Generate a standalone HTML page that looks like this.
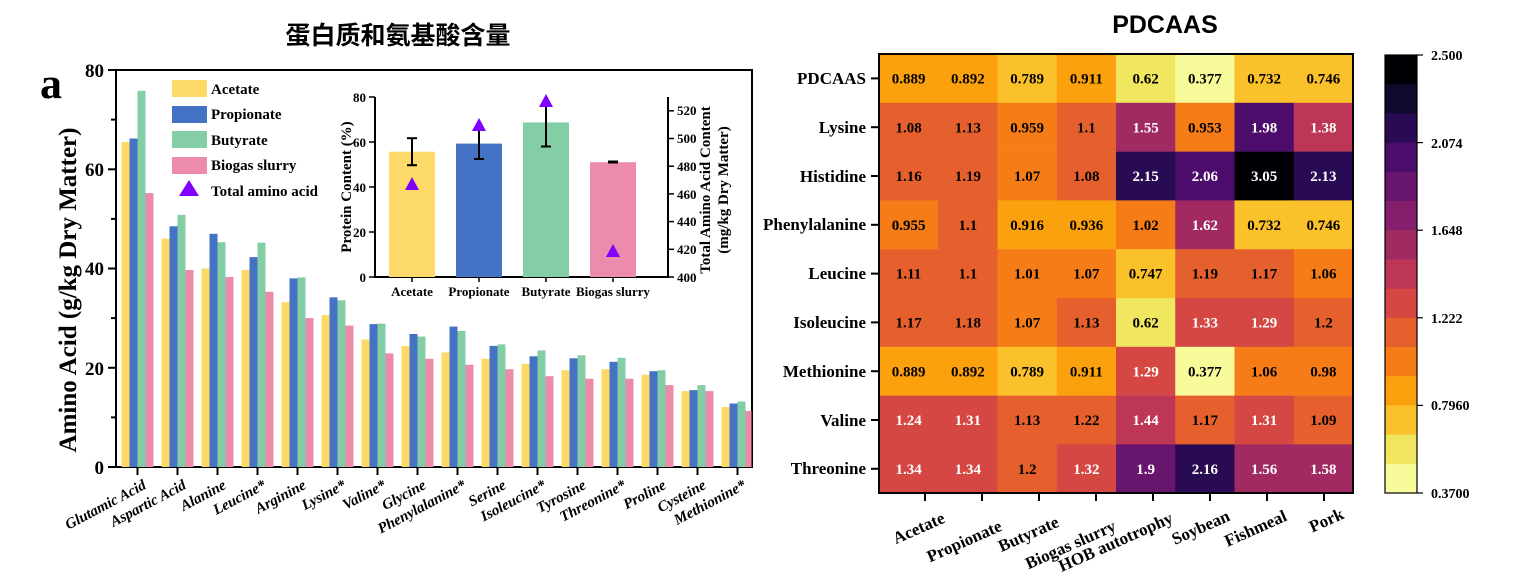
<!DOCTYPE html>
<html><head><meta charset="utf-8">
<style>
html,body{margin:0;padding:0;background:#fff;}
svg{display:block;}
text{font-family:"Liberation Serif","Noto Serif CJK SC",serif;font-weight:bold;fill:#000;}
.cn{font-family:"Liberation Sans","Noto Sans CJK SC",sans-serif;font-weight:bold;}
.v{font-size:15px;text-anchor:middle;}
.w{fill:#fff;}
.rl{font-size:17px;text-anchor:end;}
.tk{font-size:19px;text-anchor:end;}
.it{font-size:15px;font-style:italic;text-anchor:end;}
</style></head>
<body>
<svg width="1537" height="587" viewBox="0 0 1537 587" xmlns="http://www.w3.org/2000/svg">
<text class="cn" x="398" y="44" font-size="25" text-anchor="middle">蛋白质和氨基酸含量</text>
<text x="1165" y="33" font-size="25" text-anchor="middle" style="font-family:'Liberation Sans',sans-serif">PDCAAS</text>
<text x="40" y="98" font-size="44">a</text>

<rect x="116" y="70" width="636" height="397" fill="none" stroke="#000" stroke-width="2"/>
<g stroke="#000" stroke-width="2">
<line x1="108" y1="70" x2="116" y2="70"/><line x1="108" y1="169.3" x2="116" y2="169.3"/><line x1="108" y1="268.5" x2="116" y2="268.5"/><line x1="108" y1="367.8" x2="116" y2="367.8"/><line x1="108" y1="467" x2="116" y2="467"/>
<line x1="111" y1="119.6" x2="116" y2="119.6"/><line x1="111" y1="218.9" x2="116" y2="218.9"/><line x1="111" y1="318.1" x2="116" y2="318.1"/><line x1="111" y1="417.4" x2="116" y2="417.4"/>
</g>
<text class="tk" x="104" y="77">80</text><text class="tk" x="104" y="176">60</text><text class="tk" x="104" y="275">40</text><text class="tk" x="104" y="375">20</text><text class="tk" x="104" y="474">0</text>
<text x="76" y="290" font-size="25" text-anchor="middle" transform="rotate(-90 76 290)">Amino Acid (g/kg Dry Matter)</text>

<g transform="translate(0,467) scale(1,-1)">
<g fill="#fdd96a">
<rect x="121.5" width="8" height="325"/><rect x="161.5" width="8" height="228.3"/><rect x="201.5" width="8" height="198.5"/><rect x="241.5" width="8" height="197"/><rect x="281.5" width="8" height="164.8"/><rect x="321.5" width="8" height="151.9"/><rect x="361.5" width="8" height="127.5"/><rect x="401.5" width="8" height="121.1"/><rect x="441.5" width="8" height="114.6"/><rect x="481.5" width="8" height="108.2"/><rect x="521.5" width="8" height="103.2"/><rect x="561.5" width="8" height="96.8"/><rect x="601.5" width="8" height="97.8"/><rect x="641.5" width="8" height="92.3"/><rect x="681.5" width="8" height="75.9"/><rect x="721.5" width="8" height="60"/>
</g>
<g fill="#4472c4">
<rect x="129.5" width="8" height="328.5"/><rect x="169.5" width="8" height="240.7"/><rect x="209.5" width="8" height="233.2"/><rect x="249.5" width="8" height="209.9"/><rect x="289.5" width="8" height="188.6"/><rect x="329.5" width="8" height="169.7"/><rect x="369.5" width="8" height="142.9"/><rect x="409.5" width="8" height="133"/><rect x="449.5" width="8" height="140.4"/><rect x="489.5" width="8" height="121.1"/><rect x="529.5" width="8" height="110.7"/><rect x="569.5" width="8" height="108.7"/><rect x="609.5" width="8" height="105.2"/><rect x="649.5" width="8" height="95.8"/><rect x="689.5" width="8" height="76.9"/><rect x="729.5" width="8" height="63.5"/>
</g>
<g fill="#83cea4">
<rect x="137.5" width="8" height="376.2"/><rect x="177.5" width="8" height="252.1"/><rect x="217.5" width="8" height="224.8"/><rect x="257.5" width="8" height="224.3"/><rect x="297.5" width="8" height="189.6"/><rect x="337.5" width="8" height="166.7"/><rect x="377.5" width="8" height="143.4"/><rect x="417.5" width="8" height="130.5"/><rect x="457.5" width="8" height="136"/><rect x="497.5" width="8" height="122.6"/><rect x="537.5" width="8" height="116.6"/><rect x="577.5" width="8" height="111.7"/><rect x="617.5" width="8" height="109.2"/><rect x="657.5" width="8" height="96.8"/><rect x="697.5" width="8" height="81.9"/><rect x="737.5" width="8" height="65.5"/>
</g>
<g fill="#ec8bab">
<rect x="145.5" width="8" height="273.9"/><rect x="185.5" width="8" height="197"/><rect x="225.5" width="8" height="190.1"/><rect x="265.5" width="8" height="175.2"/><rect x="305.5" width="8" height="148.9"/><rect x="345.5" width="8" height="141.4"/><rect x="385.5" width="8" height="113.6"/><rect x="425.5" width="8" height="108.2"/><rect x="465.5" width="8" height="102.2"/><rect x="505.5" width="8" height="97.8"/><rect x="545.5" width="8" height="90.8"/><rect x="585.5" width="8" height="88.3"/><rect x="625.5" width="8" height="88.3"/><rect x="665.5" width="8" height="81.9"/><rect x="705.5" width="8" height="75.9"/><rect x="745.5" width="6" height="56.1"/>
</g>
</g>
<g stroke="#000" stroke-width="2">
<line x1="137.5" y1="467" x2="137.5" y2="475"/><line x1="177.5" y1="467" x2="177.5" y2="475"/><line x1="217.5" y1="467" x2="217.5" y2="475"/><line x1="257.5" y1="467" x2="257.5" y2="475"/><line x1="297.5" y1="467" x2="297.5" y2="475"/><line x1="337.5" y1="467" x2="337.5" y2="475"/><line x1="377.5" y1="467" x2="377.5" y2="475"/><line x1="417.5" y1="467" x2="417.5" y2="475"/><line x1="457.5" y1="467" x2="457.5" y2="475"/><line x1="497.5" y1="467" x2="497.5" y2="475"/><line x1="537.5" y1="467" x2="537.5" y2="475"/><line x1="577.5" y1="467" x2="577.5" y2="475"/><line x1="617.5" y1="467" x2="617.5" y2="475"/><line x1="657.5" y1="467" x2="657.5" y2="475"/><line x1="697.5" y1="467" x2="697.5" y2="475"/><line x1="737.5" y1="467" x2="737.5" y2="475"/>
</g>
<text class="it" transform="translate(147,488) rotate(-28)">Glutamic Acid</text>
<text class="it" transform="translate(187,488) rotate(-28)">Aspartic Acid</text>
<text class="it" transform="translate(227,488) rotate(-28)">Alanine</text>
<text class="it" transform="translate(267,488) rotate(-28)">Leucine*</text>
<text class="it" transform="translate(307,488) rotate(-28)">Arginine</text>
<text class="it" transform="translate(347,488) rotate(-28)">Lysine*</text>
<text class="it" transform="translate(387,488) rotate(-28)">Valine*</text>
<text class="it" transform="translate(427,488) rotate(-28)">Glycine</text>
<text class="it" transform="translate(467,488) rotate(-28)">Phenylalanine*</text>
<text class="it" transform="translate(507,488) rotate(-28)">Serine</text>
<text class="it" transform="translate(547,488) rotate(-28)">Isoleucine*</text>
<text class="it" transform="translate(587,488) rotate(-28)">Tyrosine</text>
<text class="it" transform="translate(627,488) rotate(-28)">Threonine*</text>
<text class="it" transform="translate(667,488) rotate(-28)">Proline</text>
<text class="it" transform="translate(707,488) rotate(-28)">Cysteine</text>
<text class="it" transform="translate(747,488) rotate(-28)">Methionine*</text>

<rect x="172" y="80" width="35" height="17" fill="#fdd96a"/><text x="211" y="94" font-size="15">Acetate</text>
<rect x="172" y="106" width="35" height="17" fill="#4472c4"/><text x="211" y="119" font-size="15">Propionate</text>
<rect x="172" y="131" width="35" height="17" fill="#83cea4"/><text x="211" y="145" font-size="15">Butyrate</text>
<rect x="172" y="157" width="35" height="17" fill="#ec8bab"/><text x="211" y="170" font-size="15">Biogas slurry</text>
<polygon points="189,180 199,196 179,196" fill="#8000ff"/><text x="211" y="196" font-size="15">Total amino acid</text>

<line x1="375" y1="97" x2="375" y2="277" stroke="#000" stroke-width="2"/>
<line x1="374" y1="277" x2="669" y2="277" stroke="#000" stroke-width="2"/>
<line x1="668" y1="97" x2="668" y2="277" stroke="#000" stroke-width="2"/>
<g stroke="#000" stroke-width="1.5">
<line x1="369" y1="97" x2="375" y2="97"/><line x1="369" y1="142" x2="375" y2="142"/><line x1="369" y1="187" x2="375" y2="187"/><line x1="369" y1="232" x2="375" y2="232"/><line x1="369" y1="277" x2="375" y2="277"/>
<line x1="668" y1="277" x2="674" y2="277"/><line x1="668" y1="249.3" x2="674" y2="249.3"/><line x1="668" y1="221.6" x2="674" y2="221.6"/><line x1="668" y1="193.9" x2="674" y2="193.9"/><line x1="668" y1="166.2" x2="674" y2="166.2"/><line x1="668" y1="138.5" x2="674" y2="138.5"/><line x1="668" y1="110.8" x2="674" y2="110.8"/>
<line x1="412" y1="277" x2="412" y2="282"/><line x1="479" y1="277" x2="479" y2="282"/><line x1="546" y1="277" x2="546" y2="282"/><line x1="613" y1="277" x2="613" y2="282"/>
</g>
<g font-size="13" text-anchor="end">
<text x="366" y="102">80</text><text x="366" y="147">60</text><text x="366" y="192">40</text><text x="366" y="237">20</text><text x="366" y="282">0</text>
</g>
<g font-size="13">
<text x="677" y="282">400</text><text x="677" y="254">420</text><text x="677" y="226">440</text><text x="677" y="199">460</text><text x="677" y="171">480</text><text x="677" y="143">500</text><text x="677" y="115">520</text>
</g>
<text x="351" y="187" font-size="15" text-anchor="middle" transform="rotate(-90 351 187)">Protein Content (%)</text>
<text x="710" y="190" font-size="15" text-anchor="middle" transform="rotate(-90 710 190)">Total Amino Acid Content</text>
<text x="728" y="190" font-size="15" text-anchor="middle" transform="rotate(-90 728 190)">(mg/kg Dry Matter)</text>
<rect x="389" y="151.7" width="46" height="125.3" fill="#fdd96a"/>
<rect x="456" y="143.6" width="46" height="133.4" fill="#4472c4"/>
<rect x="523" y="122.4" width="46" height="154.6" fill="#83cea4"/>
<rect x="590" y="162.2" width="46" height="114.8" fill="#ec8bab"/>
<g stroke="#000" stroke-width="2">
<line x1="412" y1="138.2" x2="412" y2="165.2"/><line x1="407" y1="138.2" x2="417" y2="138.2"/><line x1="407" y1="165.2" x2="417" y2="165.2"/>
<line x1="479" y1="128.5" x2="479" y2="159"/><line x1="474" y1="128.5" x2="484" y2="128.5"/><line x1="474" y1="159" x2="484" y2="159"/>
<line x1="546" y1="100" x2="546" y2="146.5"/><line x1="541" y1="146.5" x2="551" y2="146.5"/>
<line x1="608" y1="162" x2="618" y2="162" stroke-width="3"/>
</g>
<g fill="#8000ff">
<polygon points="412,177 419,190 405,190"/><polygon points="479,118 486,131 472,131"/><polygon points="546,94 553,107 539,107"/><polygon points="613,244 620,257 606,257"/>
</g>
<g font-size="13" text-anchor="middle">
<text x="412" y="296">Acetate</text><text x="479" y="296">Propionate</text><text x="546" y="296">Butyrate</text><text x="613" y="296">Biogas slurry</text>
</g>

<g>
<g transform="translate(0,54)">
<rect x="879" width="60" height="49" fill="#fba10d"/><rect x="938.25" width="60" height="49" fill="#fba10d"/><rect x="997.5" width="60" height="49" fill="#fbc12a"/><rect x="1056.75" width="60" height="49" fill="#fba10d"/><rect x="1116" width="60" height="49" fill="#f1e660"/><rect x="1175.25" width="60" height="49" fill="#f7fb99"/><rect x="1234.5" width="60" height="49" fill="#fbc12a"/><rect x="1293.75" width="59.25" height="49" fill="#fbc12a"/>
<text class="v" x="908.6" y="29.5">0.889</text><text class="v" x="967.9" y="29.5">0.892</text><text class="v" x="1027.1" y="29.5">0.789</text><text class="v" x="1086.4" y="29.5">0.911</text><text class="v" x="1145.6" y="29.5">0.62</text><text class="v" x="1204.9" y="29.5">0.377</text><text class="v" x="1264.1" y="29.5">0.732</text><text class="v" x="1323.4" y="29.5">0.746</text>
</g>
<g transform="translate(0,102.8)">
<rect x="879" width="60" height="49" fill="#e6602e"/><rect x="938.25" width="60" height="49" fill="#e6602e"/><rect x="997.5" width="60" height="49" fill="#f57c16"/><rect x="1056.75" width="60" height="49" fill="#e6602e"/><rect x="1116" width="60" height="49" fill="#a12a62"/><rect x="1175.25" width="60" height="49" fill="#f57c16"/><rect x="1234.5" width="60" height="49" fill="#4b0c6b"/><rect x="1293.75" width="59.25" height="49" fill="#bd3655"/>
<text class="v" x="908.6" y="29.5">1.08</text><text class="v" x="967.9" y="29.5">1.13</text><text class="v" x="1027.1" y="29.5">0.959</text><text class="v" x="1086.4" y="29.5">1.1</text><text class="v w" x="1145.6" y="29.5">1.55</text><text class="v" x="1204.9" y="29.5">0.953</text><text class="v w" x="1264.1" y="29.5">1.98</text><text class="v w" x="1323.4" y="29.5">1.38</text>
</g>
<g transform="translate(0,151.6)">
<rect x="879" width="60" height="49" fill="#e6602e"/><rect x="938.25" width="60" height="49" fill="#e6602e"/><rect x="997.5" width="60" height="49" fill="#f57c16"/><rect x="1056.75" width="60" height="49" fill="#e6602e"/><rect x="1116" width="60" height="49" fill="#280b53"/><rect x="1175.25" width="60" height="49" fill="#4b0c6b"/><rect x="1234.5" width="60" height="49" fill="#000004"/><rect x="1293.75" width="59.25" height="49" fill="#280b53"/>
<text class="v" x="908.6" y="29.5">1.16</text><text class="v" x="967.9" y="29.5">1.19</text><text class="v" x="1027.1" y="29.5">1.07</text><text class="v" x="1086.4" y="29.5">1.08</text><text class="v w" x="1145.6" y="29.5">2.15</text><text class="v w" x="1204.9" y="29.5">2.06</text><text class="v w" x="1264.1" y="29.5">3.05</text><text class="v w" x="1323.4" y="29.5">2.13</text>
</g>
<g transform="translate(0,200.4)">
<rect x="879" width="60" height="49" fill="#f57c16"/><rect x="938.25" width="60" height="49" fill="#e6602e"/><rect x="997.5" width="60" height="49" fill="#fba10d"/><rect x="1056.75" width="60" height="49" fill="#fba10d"/><rect x="1116" width="60" height="49" fill="#f57c16"/><rect x="1175.25" width="60" height="49" fill="#a12a62"/><rect x="1234.5" width="60" height="49" fill="#fbc12a"/><rect x="1293.75" width="59.25" height="49" fill="#fbc12a"/>
<text class="v" x="908.6" y="29.5">0.955</text><text class="v" x="967.9" y="29.5">1.1</text><text class="v" x="1027.1" y="29.5">0.916</text><text class="v" x="1086.4" y="29.5">0.936</text><text class="v" x="1145.6" y="29.5">1.02</text><text class="v w" x="1204.9" y="29.5">1.62</text><text class="v" x="1264.1" y="29.5">0.732</text><text class="v" x="1323.4" y="29.5">0.746</text>
</g>
<g transform="translate(0,249.2)">
<rect x="879" width="60" height="49" fill="#e6602e"/><rect x="938.25" width="60" height="49" fill="#e6602e"/><rect x="997.5" width="60" height="49" fill="#f57c16"/><rect x="1056.75" width="60" height="49" fill="#f57c16"/><rect x="1116" width="60" height="49" fill="#fbc12a"/><rect x="1175.25" width="60" height="49" fill="#e6602e"/><rect x="1234.5" width="60" height="49" fill="#e6602e"/><rect x="1293.75" width="59.25" height="49" fill="#f57c16"/>
<text class="v" x="908.6" y="29.5">1.11</text><text class="v" x="967.9" y="29.5">1.1</text><text class="v" x="1027.1" y="29.5">1.01</text><text class="v" x="1086.4" y="29.5">1.07</text><text class="v" x="1145.6" y="29.5">0.747</text><text class="v" x="1204.9" y="29.5">1.19</text><text class="v" x="1264.1" y="29.5">1.17</text><text class="v" x="1323.4" y="29.5">1.06</text>
</g>
<g transform="translate(0,298)">
<rect x="879" width="60" height="49" fill="#e6602e"/><rect x="938.25" width="60" height="49" fill="#e6602e"/><rect x="997.5" width="60" height="49" fill="#f57c16"/><rect x="1056.75" width="60" height="49" fill="#e6602e"/><rect x="1116" width="60" height="49" fill="#f1e660"/><rect x="1175.25" width="60" height="49" fill="#d44743"/><rect x="1234.5" width="60" height="49" fill="#d44743"/><rect x="1293.75" width="59.25" height="49" fill="#e6602e"/>
<text class="v" x="908.6" y="29.5">1.17</text><text class="v" x="967.9" y="29.5">1.18</text><text class="v" x="1027.1" y="29.5">1.07</text><text class="v" x="1086.4" y="29.5">1.13</text><text class="v" x="1145.6" y="29.5">0.62</text><text class="v w" x="1204.9" y="29.5">1.33</text><text class="v w" x="1264.1" y="29.5">1.29</text><text class="v" x="1323.4" y="29.5">1.2</text>
</g>
<g transform="translate(0,346.8)">
<rect x="879" width="60" height="49" fill="#fba10d"/><rect x="938.25" width="60" height="49" fill="#fba10d"/><rect x="997.5" width="60" height="49" fill="#fbc12a"/><rect x="1056.75" width="60" height="49" fill="#fba10d"/><rect x="1116" width="60" height="49" fill="#d44743"/><rect x="1175.25" width="60" height="49" fill="#f7fb99"/><rect x="1234.5" width="60" height="49" fill="#f57c16"/><rect x="1293.75" width="59.25" height="49" fill="#f57c16"/>
<text class="v" x="908.6" y="29.5">0.889</text><text class="v" x="967.9" y="29.5">0.892</text><text class="v" x="1027.1" y="29.5">0.789</text><text class="v" x="1086.4" y="29.5">0.911</text><text class="v w" x="1145.6" y="29.5">1.29</text><text class="v" x="1204.9" y="29.5">0.377</text><text class="v" x="1264.1" y="29.5">1.06</text><text class="v" x="1323.4" y="29.5">0.98</text>
</g>
<g transform="translate(0,395.6)">
<rect x="879" width="60" height="49" fill="#d44743"/><rect x="938.25" width="60" height="49" fill="#d44743"/><rect x="997.5" width="60" height="49" fill="#e6602e"/><rect x="1056.75" width="60" height="49" fill="#e6602e"/><rect x="1116" width="60" height="49" fill="#bd3655"/><rect x="1175.25" width="60" height="49" fill="#e6602e"/><rect x="1234.5" width="60" height="49" fill="#d44743"/><rect x="1293.75" width="59.25" height="49" fill="#e6602e"/>
<text class="v w" x="908.6" y="29.5">1.24</text><text class="v w" x="967.9" y="29.5">1.31</text><text class="v" x="1027.1" y="29.5">1.13</text><text class="v" x="1086.4" y="29.5">1.22</text><text class="v w" x="1145.6" y="29.5">1.44</text><text class="v" x="1204.9" y="29.5">1.17</text><text class="v w" x="1264.1" y="29.5">1.31</text><text class="v" x="1323.4" y="29.5">1.09</text>
</g>
<g transform="translate(0,444.4)">
<rect x="879" width="60" height="48.6" fill="#d44743"/><rect x="938.25" width="60" height="48.6" fill="#d44743"/><rect x="997.5" width="60" height="48.6" fill="#e6602e"/><rect x="1056.75" width="60" height="48.6" fill="#d44743"/><rect x="1116" width="60" height="48.6" fill="#68156e"/><rect x="1175.25" width="60" height="48.6" fill="#280b53"/><rect x="1234.5" width="60" height="48.6" fill="#a12a62"/><rect x="1293.75" width="59.25" height="48.6" fill="#a12a62"/>
<text class="v w" x="908.6" y="29.5">1.34</text><text class="v w" x="967.9" y="29.5">1.34</text><text class="v" x="1027.1" y="29.5">1.2</text><text class="v w" x="1086.4" y="29.5">1.32</text><text class="v w" x="1145.6" y="29.5">1.9</text><text class="v w" x="1204.9" y="29.5">2.16</text><text class="v w" x="1264.1" y="29.5">1.56</text><text class="v w" x="1323.4" y="29.5">1.58</text>
</g>
</g>
<rect x="879" y="54" width="474" height="439" fill="none" stroke="#000" stroke-width="2"/>
<g stroke="#000" stroke-width="2">
<line x1="871" y1="78.4" x2="879" y2="78.4"/><line x1="871" y1="127.2" x2="879" y2="127.2"/><line x1="871" y1="176" x2="879" y2="176"/><line x1="871" y1="224.8" x2="879" y2="224.8"/><line x1="871" y1="273.6" x2="879" y2="273.6"/><line x1="871" y1="322.4" x2="879" y2="322.4"/><line x1="871" y1="371.2" x2="879" y2="371.2"/><line x1="871" y1="420" x2="879" y2="420"/><line x1="871" y1="468.8" x2="879" y2="468.8"/>
<line x1="925" y1="493" x2="925" y2="501"/><line x1="982" y1="493" x2="982" y2="501"/><line x1="1039" y1="493" x2="1039" y2="501"/><line x1="1096" y1="493" x2="1096" y2="501"/><line x1="1153" y1="493" x2="1153" y2="501"/><line x1="1210" y1="493" x2="1210" y2="501"/><line x1="1267" y1="493" x2="1267" y2="501"/><line x1="1324" y1="493" x2="1324" y2="501"/>
</g>
<text class="rl" x="866" y="84">PDCAAS</text><text class="rl" x="866" y="133">Lysine</text><text class="rl" x="866" y="182">Histidine</text><text class="rl" x="866" y="230">Phenylalanine</text><text class="rl" x="866" y="279">Leucine</text><text class="rl" x="866" y="328">Isoleucine</text><text class="rl" x="866" y="377">Methionine</text><text class="rl" x="866" y="426">Valine</text><text class="rl" x="866" y="474">Threonine</text>
<g font-size="17" text-anchor="end">
<text transform="translate(946,522) rotate(-24)">Acetate</text>
<text transform="translate(1003,530) rotate(-24)">Propionate</text>
<text transform="translate(1060,526) rotate(-24)">Butyrate</text>
<text transform="translate(1117,530) rotate(-24)">Biogas slurry</text>
<text transform="translate(1174,522) rotate(-24)">HOB autotrophy</text>
<text transform="translate(1231,520) rotate(-24)">Soybean</text>
<text transform="translate(1288,520) rotate(-24)">Fishmeal</text>
<text transform="translate(1345,518) rotate(-24)">Pork</text>
</g>

<g>
<rect x="1385" y="55" width="32" height="30" fill="#000004"/>
<rect x="1385" y="84.2" width="32" height="30" fill="#0f0a2c"/>
<rect x="1385" y="113.4" width="32" height="30" fill="#280b53"/>
<rect x="1385" y="142.6" width="32" height="30" fill="#4b0c6b"/>
<rect x="1385" y="171.8" width="32" height="30" fill="#68156e"/>
<rect x="1385" y="201" width="32" height="30" fill="#861f6b"/>
<rect x="1385" y="230.2" width="32" height="30" fill="#a12a62"/>
<rect x="1385" y="259.4" width="32" height="30" fill="#bd3655"/>
<rect x="1385" y="288.6" width="32" height="30" fill="#d44743"/>
<rect x="1385" y="317.8" width="32" height="30" fill="#e6602e"/>
<rect x="1385" y="347" width="32" height="30" fill="#f57c16"/>
<rect x="1385" y="376.2" width="32" height="30" fill="#fba10d"/>
<rect x="1385" y="405.4" width="32" height="30" fill="#fbc12a"/>
<rect x="1385" y="434.6" width="32" height="30" fill="#f1e660"/>
<rect x="1385" y="463.8" width="32" height="29.2" fill="#f7fb99"/>
</g>
<rect x="1385" y="55" width="32" height="438" fill="none" stroke="#000" stroke-width="1.2"/>
<g stroke="#000" stroke-width="1.2">
<line x1="1417" y1="55" x2="1423" y2="55"/><line x1="1417" y1="142.6" x2="1423" y2="142.6"/><line x1="1417" y1="230.2" x2="1423" y2="230.2"/><line x1="1417" y1="317.8" x2="1423" y2="317.8"/><line x1="1417" y1="405.4" x2="1423" y2="405.4"/><line x1="1417" y1="493" x2="1423" y2="493"/>
</g>
<g font-size="14">
<text x="1431" y="60">2.500</text><text x="1431" y="148">2.074</text><text x="1431" y="235">1.648</text><text x="1431" y="323">1.222</text><text x="1431" y="410">0.7960</text><text x="1431" y="498">0.3700</text>
</g>
</svg>
</body></html>
